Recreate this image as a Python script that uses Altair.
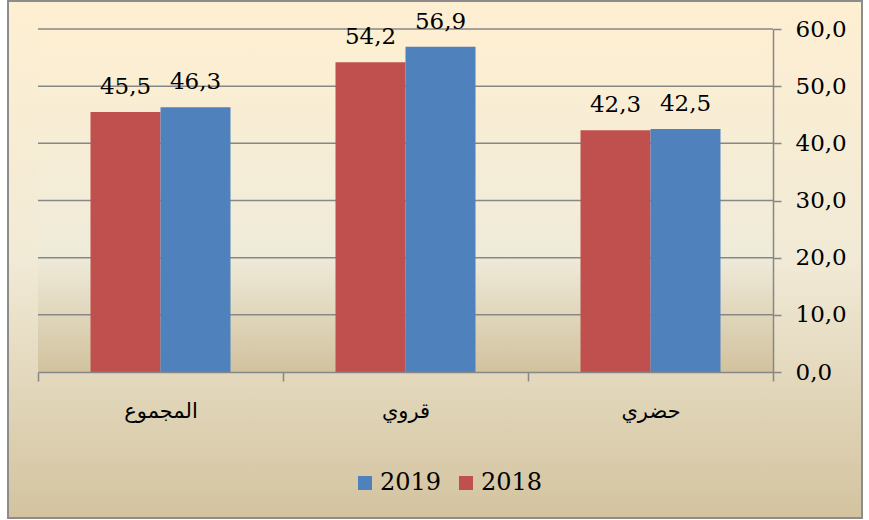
import altair as alt
import pandas as pd

categories = ["المجموع", "قروي", "حضري"]
years = ["2018", "2019"]
values_2018 = [45.5, 54.2, 42.3]
values_2019 = [46.3, 56.9, 42.5]
y_ticks = [0, 10, 20, 30, 40, 50, 60]
legend_order = ["2019", "2018"]
legend_colors = ["#4F81BD", "#C0504D"]

rows = []
for c, a, b in zip(categories, values_2018, values_2019):
    rows.append({"cat": c, "year": "2018", "v": a})
    rows.append({"cat": c, "year": "2019", "v": b})
df = pd.DataFrame(rows)
ticks_df = pd.DataFrame({"t": y_ticks[1:]})
one = pd.DataFrame({"d": [0]})

W, H = 735, 343
PAD = {"left": 38, "top": 29, "right": 96, "bottom": 148}

outer_grad = alt.LinearGradient(
    gradient="linear", x1=0, y1=0, x2=0, y2=1,
    stops=[alt.GradientStop(offset=0, color="#FEEFD2"),
           alt.GradientStop(offset=0.5, color="#F1EAD6"),
           alt.GradientStop(offset=1, color="#D3C39F")])
plot_grad = alt.LinearGradient(
    gradient="linear", x1=0, y1=0, x2=0, y2=1,
    stops=[alt.GradientStop(offset=0, color="#FEEFD1"),
           alt.GradientStop(offset=0.66, color="#EFEBDA"),
           alt.GradientStop(offset=1, color="#D2C29E")])

outer = alt.Chart(one).mark_rect(color=outer_grad, stroke="#8C8C8C", strokeWidth=2).encode(
    x=alt.value(-30), x2=alt.value(824), y=alt.value(-28), y2=alt.value(489))
plot_bg = alt.Chart(one).mark_rect(color=plot_grad).encode(
    x=alt.value(0), x2=alt.value(W), y=alt.value(0), y2=alt.value(H))

yscale = alt.Scale(domain=[0, 60], nice=False)
xscale = alt.Scale(paddingInner=0, paddingOuter=0)
xoff_scale = alt.Scale(domain=years, paddingInner=0, paddingOuter=0.75)

yaxis = alt.Axis(orient="right", values=y_ticks, grid=False,
                 labelExpr="replace(format(datum.value, '.1f'), '.', ',')",
                 domainColor="#878787", domainWidth=1.5, tickColor="#878787",
                 tickWidth=1.5, tickSize=8, labelFont="DejaVu Serif",
                 labelFontSize=23, labelColor="black", labelPadding=14, zindex=1)
xaxis = alt.Axis(orient="bottom", tickBand="extent", tickSize=9, tickWidth=1.5,
                 tickColor="#878787", domainColor="#878787", domainWidth=1.5,
                 labelAngle=0, labelFont="DejaVu Sans", labelFontSize=21,
                 labelColor="black", labelPadding=19, zindex=1)

grid = alt.Chart(ticks_df).mark_rule(color="#878787", strokeWidth=1.5).encode(
    y=alt.Y("t:Q", scale=yscale, axis=yaxis, title=None),
    x=alt.value(0), x2=alt.value(W))

bars = alt.Chart(df).mark_bar(opacity=1).encode(
    x=alt.X("cat:N", sort=categories, scale=xscale, title=None, axis=xaxis),
    xOffset=alt.XOffset("year:N", scale=xoff_scale),
    y=alt.Y("v:Q", scale=yscale, title=None, axis=yaxis),
    color=alt.Color("year:N", scale=alt.Scale(domain=legend_order, range=legend_colors),
                    legend=alt.Legend(orient="none", legendX=315, legendY=442,
                                      direction="horizontal", title=None, symbolType="square",
                                      symbolSize=196, symbolStrokeWidth=0, symbolOpacity=1,
                                      labelFont="DejaVu Serif", labelFontSize=24,
                                      labelColor="black", columnPadding=12, labelOffset=3,
                                      zindex=1)))

text = alt.Chart(df).transform_calculate(
    label="replace(format(datum.v, '.1f'), '.', ',')"
).mark_text(font="DejaVu Serif", fontSize=23, color="black", dy=-18, baseline="alphabetic").encode(
    x=alt.X("cat:N", sort=categories, scale=xscale, title=None, axis=xaxis),
    xOffset=alt.XOffset("year:N", scale=xoff_scale),
    y=alt.Y("v:Q", scale=yscale, title=None, axis=yaxis),
    text="label:N")

chart = alt.layer(outer, plot_bg, grid, bars, text).properties(
    width=W, height=H, padding=PAD,
    autosize=alt.AutoSizeParams(type="none"), background="white"
).configure_view(stroke=None)

chart.save("out.html", embed_options={"renderer": "svg", "actions": False})
